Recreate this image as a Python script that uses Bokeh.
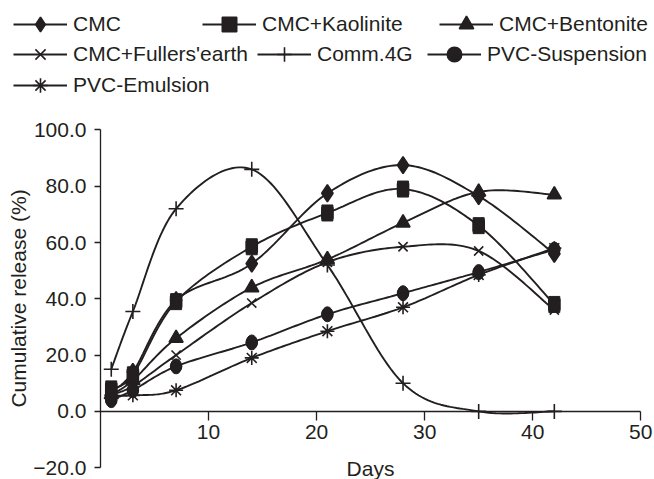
import numpy as np
from bokeh.plotting import figure
from bokeh.models import Range1d, FixedTicker, Legend, LegendItem
from bokeh.embed import file_html
from bokeh.resources import INLINE

# ---- data ----
days = [1, 3, 7, 14, 21, 28, 35, 42]
cmc = [7.0, 14.0, 39.5, 52.5, 77.5, 87.5, 76.5, 56.0]
cmc_kaolinite = [8.0, 13.0, 39.0, 58.5, 70.5, 79.0, 66.0, 38.0]
cmc_bentonite = [6.0, 11.0, 26.0, 44.0, 54.0, 67.0, 78.0, 77.0]
cmc_fullers = [6.0, 9.0, 20.0, 38.5, 53.0, 58.5, 57.0, 36.0]
comm_4g = [15.0, 35.5, 72.0, 86.0, 52.0, 10.0, 0.0, 0.0]
pvc_suspension = [4.0, 7.5, 16.0, 24.5, 34.5, 42.0, 49.5, 57.5]
pvc_emulsion = [5.7, 5.7, 7.5, 19.0, 28.5, 37.0, 48.5, 58.0]

series_names = ["CMC", "CMC+Kaolinite", "CMC+Bentonite", "CMC+Fullers'earth",
                "Comm.4G", "PVC-Suspension", "PVC-Emulsion"]
x_ticks = [10, 20, 30, 40, 50]
y_ticks = [-20, 0, 20, 40, 60, 80, 100]

INK = "#231f20"
FONT = "Liberation Sans"
FS = "21px"

W, H = 654, 479


def smooth(xs, ys, n=24):
    """Excel-like smoothed line: Catmull-Rom via cubic Bezier segments."""
    P = np.column_stack([xs, ys]).astype(float)
    out = [P[0]]
    m = len(P)
    t = np.linspace(0, 1, n + 1)[1:, None]
    for i in range(m - 1):
        p0 = P[i - 1] if i > 0 else P[i]
        p1, p2 = P[i], P[i + 1]
        p3 = P[i + 2] if i + 2 < m else P[i + 1]
        c1 = p1 + (p2 - p0) / 6.0
        c2 = p2 - (p3 - p1) / 6.0
        seg = ((1 - t) ** 3) * p1 + 3 * ((1 - t) ** 2) * t * c1 + 3 * (1 - t) * t ** 2 * c2 + t ** 3 * p2
        out.extend(seg)
    out = np.array(out)
    return out[:, 0], out[:, 1]


# The frame covers the whole canvas, so both axes (drawn crossing at 0,0),
# their labels and the legend all lie inside it; axis bounds limit the rules.
p = figure(width=W, height=H, output_backend="svg", toolbar_location=None,
           x_range=Range1d(-9.25, 51.27), y_range=Range1d(-24.2, 146.0),
           min_border_left=0, min_border_right=0, min_border_top=0, min_border_bottom=0)
p.outline_line_color = None
p.xgrid.visible = False
p.ygrid.visible = False
p.background_fill_color = "white"
p.border_fill_color = "white"

# x axis crossing at y = 0
xa = p.xaxis[0]
xa.fixed_location = 0
xa.bounds = (0, 50)
xa.ticker = FixedTicker(ticks=x_ticks)
xa.axis_label = "Days"
xa.major_tick_out = 9
xa.major_tick_in = 0
xa.minor_tick_out = 0
xa.minor_tick_in = 0
xa.major_label_standoff = 5
xa.axis_label_standoff = 14

# y axis at x = 0
ya = p.yaxis[0]
ya.fixed_location = 0
ya.bounds = (-20, 100)
ya.ticker = FixedTicker(ticks=y_ticks)
ya.major_label_overrides = {v: f"{v:.1f}".replace("-", "\u2212") for v in y_ticks}
ya.axis_label = "Cumulative release (%)"
ya.major_tick_out = 6
ya.major_tick_in = 0
ya.minor_tick_out = 0
ya.minor_tick_in = 0
ya.major_label_standoff = 8
ya.axis_label_standoff = 0

for ax in (xa, ya):
    ax.axis_line_color = INK
    ax.axis_line_width = 1.3
    ax.major_tick_line_color = INK
    ax.major_tick_line_width = 1.3
    ax.major_label_text_font = FONT
    ax.major_label_text_font_size = FS
    ax.major_label_text_color = INK
    ax.axis_label_text_font = FONT
    ax.axis_label_text_font_size = FS
    ax.axis_label_text_font_style = "normal"
    ax.axis_label_text_color = INK

all_series = [cmc, cmc_kaolinite, cmc_bentonite, cmc_fullers, comm_4g, pvc_suspension, pvc_emulsion]
markers = ["diamond", "square", "triangle", "x", "cross", "circle", "asterisk"]
sizes = [17, 11, 14, 13, 15, 11, 14]

line_r = []
mark_r = []
for vals, mk, sz in zip(all_series, markers, sizes):
    sx, sy = smooth(days, vals)
    lr = p.line(sx, sy, line_color=INK, line_width=1.9)
    mr = p.scatter(days, vals, marker=mk, size=sz, fill_color=INK, line_color=INK, line_width=1.6)
    line_r.append(lr)
    mark_r.append(mr)

# vertically stretched square and circle marks, as in the reference
p.rect(days, cmc_kaolinite, width=11, height=16, width_units="screen", height_units="screen",
       fill_color=INK, line_color=INK)
p.ellipse(days, pvc_suspension, width=11, height=15, width_units="screen", height_units="screen",
          fill_color=INK, line_color=INK)

# legend: positions (page px) of line start and row centre for each entry
leg_x = [13, 202, 439, 13, 257, 427, 13]
leg_y = [24, 24, 24, 53.5, 53.5, 53.5, 85]
GH = 36
for name, lr, mr, lx, ly in zip(series_names, line_r, mark_r, leg_x, leg_y):
    leg = Legend(items=[LegendItem(label=name, renderers=[lr, mr])],
                 location=(lx, H - ly - GH / 2),
                 orientation="horizontal",
                 glyph_width=54, glyph_height=GH, label_height=GH, label_standoff=6,
                 padding=0, margin=0, spacing=0,
                 border_line_alpha=0, background_fill_alpha=0,
                 label_text_font=FONT, label_text_font_size=FS, label_text_color=INK)
    p.add_layout(leg)

open("out.html", "w").write(file_html(p, INLINE))
